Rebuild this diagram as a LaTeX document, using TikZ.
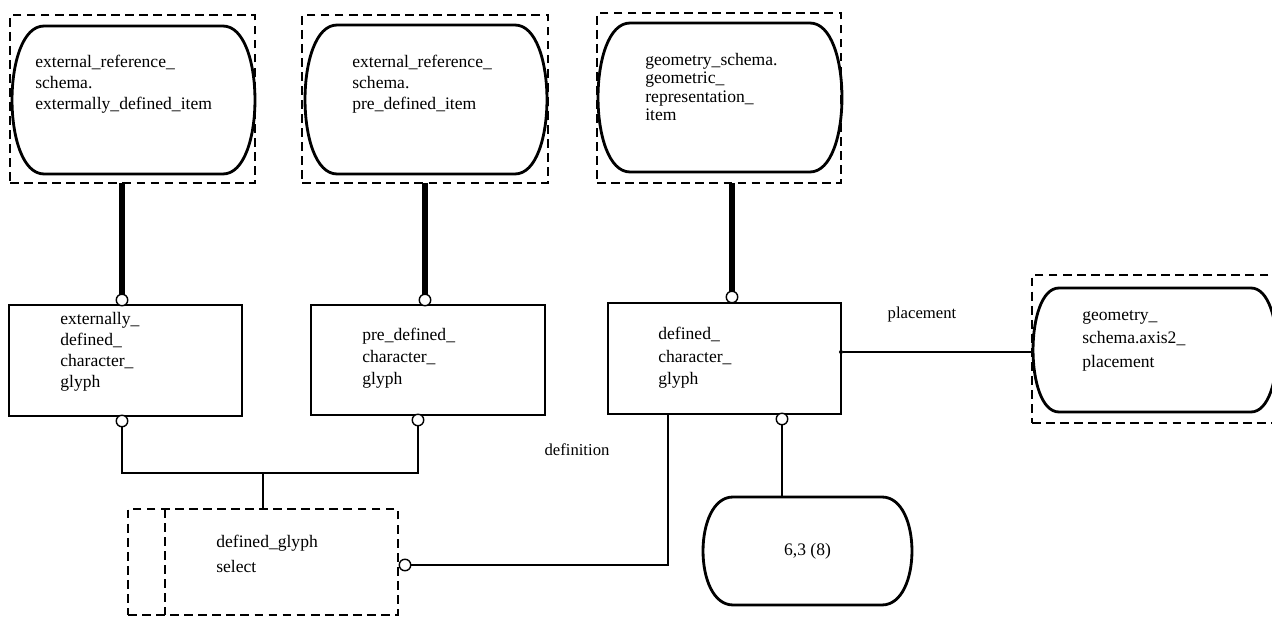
\documentclass[tikz,border=0pt]{standalone}
\usepackage{fontspec}
\setmainfont{Liberation Serif}
\usetikzlibrary{positioning, calc}
\tikzset{
  every node/.style={font=\fontsize{10}{12}\selectfont},
  dashframe/.style={
    rectangle, draw, line width=1.6pt, dash pattern=on 5pt off 3pt,
    inner sep=0pt, outer sep=0pt
  },
  schemabox/.style={rectangle, inner sep=0pt, outer sep=0pt},
  outline/.style={line width=1.6pt},
  entity/.style={
    rectangle, draw, line width=1pt, inner sep=0pt, outer sep=0pt
  },
  ring/.style={
    circle, draw, fill=white, line width=0.8pt, minimum size=0.23cm,
    inner sep=0pt, outer sep=0pt
  },
  dotmark/.style={circle, fill, minimum size=0.08cm, inner sep=0pt},
  boxtext/.style={anchor=north west, align=left, inner sep=0pt},
  heavyline/.style={line width=3.4pt},
  relline/.style={line width=1.1pt},
  dashline/.style={line width=1.6pt, dash pattern=on 5pt off 3pt},
  rolelabel/.style={font=\fontsize{9.5}{11}\selectfont, inner sep=0pt}
}
% outline of a schema box: node name, bulge depth
\newcommand{\schemaoutline}[2]{%
  \draw[outline]
    ($(#1.north west)+(#2,0)$) -- ($(#1.north east)+(-#2,0)$)
    .. controls ($(#1.north east)+(#2/3,0)$) and ($(#1.south east)+(#2/3,0)$)
    .. ($(#1.south east)+(-#2,0)$)
    -- ($(#1.south west)+(#2,0)$)
    .. controls ($(#1.south west)+(-#2/3,0)$) and ($(#1.north west)+(-#2/3,0)$)
    .. cycle;
}

\begin{document}
\begin{tikzpicture}[x=0.02cm, y=-0.02cm]
\useasboundingbox (0,0) rectangle (1272,617);

% Referenced schema items
\node[dashframe, minimum width=4.9cm, minimum height=3.36cm] (frm1) at (132.5,99) {};
\node[schemabox, minimum width=4.86cm, minimum height=2.96cm] (ext) at (133.5,100) {};
\schemaoutline{ext}{32}
\node[boxtext] (exttxt) at (35,55)
  {external\_reference\_\\schema.\\extermally\_defined\_item};

\node[dashframe, minimum width=4.92cm, minimum height=3.36cm] (frm2) at (425,99) {};
\node[schemabox, minimum width=4.84cm, minimum height=2.98cm] (pre) at (426,99.5) {};
\schemaoutline{pre}{32}
\node[boxtext] (pretxt) at (352,55)
  {external\_reference\_\\schema.\\pre\_defined\_item};

\node[dashframe, minimum width=4.88cm, minimum height=3.4cm] (frm3) at (719,98) {};
\node[schemabox, minimum width=4.88cm, minimum height=2.98cm] (geo) at (720,97.5) {};
\schemaoutline{geo}{32}
\node[boxtext, font=\fontsize{10}{10.5}\selectfont] (geotxt) at (645,53)
  {geometry\_schema.\\geometric\_\\representation\_\\item};

\node[dashframe, minimum width=4.96cm, minimum height=2.96cm] (frm4) at (1156,349) {};
\node[schemabox, minimum width=4.88cm, minimum height=2.48cm] (axis) at (1155,350) {};
\schemaoutline{axis}{26}
\node[boxtext, font=\fontsize{10}{13.4}\selectfont] (axistxt) at (1082,310)
  {geometry\_\\schema.axis2\_\\placement};

% Entities
\node[entity, minimum width=4.66cm, minimum height=2.22cm] (glyphA) at (125.5,360.5) {};
\node[boxtext] (glyphAtxt) at (60,312)
  {externally\_\\defined\_\\character\_\\glyph};

\node[entity, minimum width=4.68cm, minimum height=2.2cm] (glyphB) at (428,360) {};
\node[boxtext, font=\fontsize{10}{12.5}\selectfont] (glyphBtxt) at (362,328)
  {pre\_defined\_\\character\_\\glyph};

\node[entity, minimum width=4.66cm, minimum height=2.22cm] (glyphC) at (724.5,358.5) {};
\node[boxtext, font=\fontsize{10}{12.8}\selectfont] (glyphCtxt) at (658,327)
  {defined\_\\character\_\\glyph};

% Select type
\node[dashframe, minimum width=5.4cm, minimum height=2.12cm] (sel) at (263,562) {};
\draw[dashline] ([xshift=0.74cm]sel.north west) -- ([xshift=0.74cm]sel.south west);
\node[boxtext, font=\fontsize{10}{14}\selectfont] (seltxt) at (216,535)
  {defined\_glyph\\select};

% Cardinality
\node[schemabox, minimum width=4.18cm, minimum height=2.16cm] (card) at (807.5,551) {6,3 (8)};
\schemaoutline{card}{30}

% Subtype rings
\node[ring] (ca1) at (122,300) {};
\node[ring] (cb1) at (425,300) {};
\node[ring] (cc1) at (732,297) {};
\node[ring] (ca2) at (122,421) {};
\node[ring] (cb2) at (418,420) {};
\node[ring] (cc2) at (782,419) {};

% Thick subtype lines
\draw[heavyline] (frm1.south -| ca1) -- (ca1.north);
\draw[heavyline] (frm2.south -| cb1) -- (cb1.north);
\draw[heavyline] (frm3.south -| cc1) -- (cc1.north);

% Select branches
\coordinate (jn) at (263,473);
\draw[relline] (ca2.south) |- (jn) -| (cb2.south);
\draw[relline] (jn) -- (sel.north);

% definition
\node[ring] (cs) at (405,565) {};
\draw[relline] (cs.east) -| ([xshift=1.2cm]glyphC.south west);
\node[rolelabel] (deflbl) at (577,450) {definition};

% cardinality link
\draw[relline] (cc2.south) -- (cc2.south |- card.north);

% placement
\node[dotmark] (pdot) at (glyphC.east |- 0,352) {};
\draw[relline] (pdot) -- (axis.west |- pdot);
\node[rolelabel] (plclbl) at (922,314) {placement};

\end{tikzpicture}
\end{document}
